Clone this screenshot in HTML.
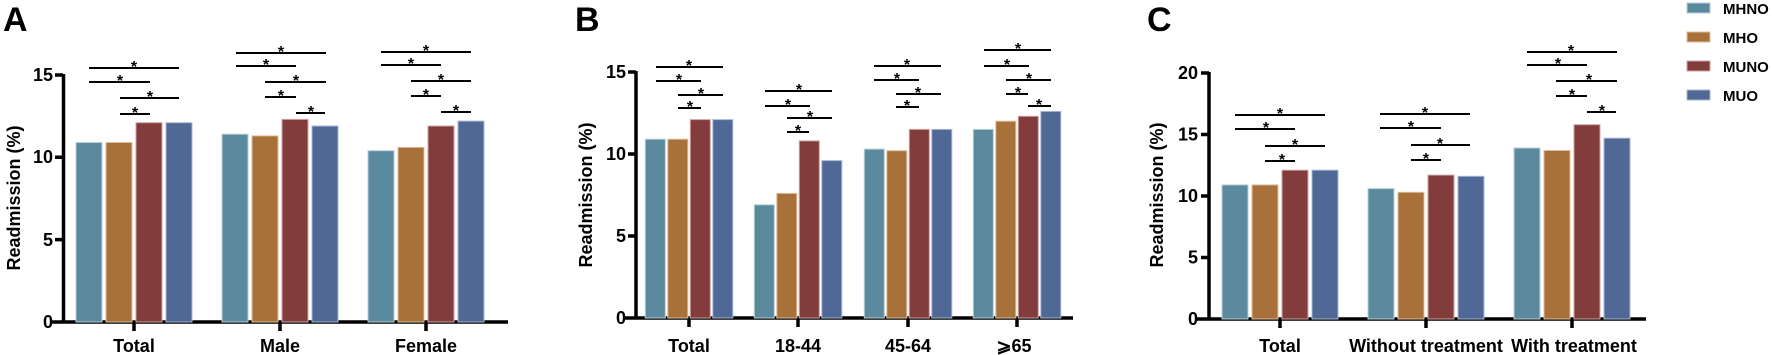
<!DOCTYPE html>
<html><head><meta charset="utf-8"><style>
html,body{margin:0;padding:0;background:#fff;}
svg{display:block;font-family:"Liberation Sans",Arial,sans-serif;font-weight:bold;}
.a{stroke:#000;stroke-width:3.5;fill:none;}
.s{stroke:#000;stroke-width:2;}
.t{font-size:18px;fill:#000;}
.st{font-size:16px;fill:#000;text-anchor:middle;}
.c1{fill:#5B8A9E;stroke:#B9CFD8;stroke-width:1;}
.c2{fill:#A9713A;stroke:#DDBF9C;stroke-width:1;}
.c3{fill:#823C3C;stroke:#CFA3A3;stroke-width:1;}
.c4{fill:#4F6896;stroke:#A9B8D2;stroke-width:1;}
</style></head><body>
<svg width="1772" height="355" viewBox="0 0 1772 355" xmlns="http://www.w3.org/2000/svg">
<!-- Panel A -->
<text x="3" y="31" font-size="34">A</text>
<text transform="translate(20,198) rotate(-90)" font-size="18" text-anchor="middle">Readmission (%)</text>
<g class="t" text-anchor="end"><text x="53" y="328">0</text><text x="53" y="246">5</text><text x="53" y="163">10</text><text x="53" y="81">15</text></g>
<path class="a" d="M63.5 74V322M52 322H508M55 239.6H63M55 157.3H63M55 75H63M134 322V331M280 322V331M426 322V331"/>
<rect class="c1" x="76" y="142.5" width="26" height="179.5"/><rect class="c2" x="106" y="142.5" width="26" height="179.5"/><rect class="c3" x="136" y="122.7" width="26" height="199.3"/><rect class="c4" x="166" y="122.7" width="26" height="199.3"/>
<rect class="c1" x="222" y="134.2" width="26" height="187.8"/><rect class="c2" x="252" y="135.9" width="26" height="186.1"/><rect class="c3" x="282" y="119.4" width="26" height="202.6"/><rect class="c4" x="312" y="126" width="26" height="196"/>
<rect class="c1" x="368" y="150.7" width="26" height="171.3"/><rect class="c2" x="398" y="147.4" width="26" height="174.6"/><rect class="c3" x="428" y="126" width="26" height="196"/><rect class="c4" x="458" y="121.1" width="26" height="200.9"/>
<g class="s"><line x1="89" y1="68" x2="179" y2="68"/><line x1="89" y1="82" x2="150" y2="82"/><line x1="120" y1="98" x2="179" y2="98"/><line x1="120" y1="114" x2="150" y2="114"/>
<line x1="236" y1="53" x2="326" y2="53"/><line x1="236" y1="66" x2="296" y2="66"/><line x1="265" y1="82" x2="326" y2="82"/><line x1="265" y1="97" x2="296" y2="97"/><line x1="296" y1="113" x2="325" y2="113"/>
<line x1="381" y1="52" x2="471" y2="52"/><line x1="381" y1="65" x2="441" y2="65"/><line x1="411" y1="81" x2="471" y2="81"/><line x1="411" y1="96" x2="441" y2="96"/><line x1="441" y1="112" x2="471" y2="112"/></g>
<g class="st"><text x="134" y="72">*</text><text x="120" y="86">*</text><text x="150" y="102">*</text><text x="135" y="118">*</text>
<text x="281" y="57">*</text><text x="266" y="70">*</text><text x="296" y="86">*</text><text x="281" y="101">*</text><text x="311" y="117">*</text>
<text x="426" y="56">*</text><text x="411" y="69">*</text><text x="441" y="85">*</text><text x="426" y="100">*</text><text x="456" y="116">*</text></g>
<g class="t" text-anchor="middle"><text x="134" y="352">Total</text><text x="280" y="352">Male</text><text x="426" y="352">Female</text></g>

<!-- Panel B -->
<text x="575" y="31" font-size="34">B</text>
<text transform="translate(592,195) rotate(-90)" font-size="18" text-anchor="middle">Readmission (%)</text>
<g class="t" text-anchor="end"><text x="626" y="324">0</text><text x="626" y="242">5</text><text x="626" y="160">10</text><text x="626" y="78">15</text></g>
<path class="a" d="M636 71V318M625 318H1073M628 236H636M628 154H636M628 72H636M689 318V327M798 318V327M908 318V327M1017 318V327"/>
<rect class="c1" x="645.3" y="139.2" width="20" height="178.8"/><rect class="c2" x="667.8" y="139.2" width="20" height="178.8"/><rect class="c3" x="690.3" y="119.6" width="20" height="198.4"/><rect class="c4" x="712.8" y="119.6" width="20" height="198.4"/>
<rect class="c1" x="754.3" y="204.8" width="20" height="113.2"/><rect class="c2" x="776.8" y="193.4" width="20" height="124.6"/><rect class="c3" x="799.3" y="140.9" width="20" height="177.1"/><rect class="c4" x="821.8" y="160.6" width="20" height="157.4"/>
<rect class="c1" x="864.3" y="149.1" width="20" height="168.9"/><rect class="c2" x="886.8" y="150.7" width="20" height="167.3"/><rect class="c3" x="909.3" y="129.4" width="20" height="188.6"/><rect class="c4" x="931.8" y="129.4" width="20" height="188.6"/>
<rect class="c1" x="973.3" y="129.4" width="20" height="188.6"/><rect class="c2" x="995.8" y="121.2" width="20" height="196.8"/><rect class="c3" x="1018.3" y="116.3" width="20" height="201.7"/><rect class="c4" x="1040.8" y="111.4" width="20" height="206.6"/>
<g class="s"><line x1="656" y1="67" x2="723" y2="67"/><line x1="656" y1="81" x2="701" y2="81"/><line x1="678" y1="95" x2="723" y2="95"/><line x1="678" y1="108" x2="701" y2="108"/>
<line x1="765" y1="91" x2="832" y2="91"/><line x1="765" y1="106" x2="810" y2="106"/><line x1="787" y1="118" x2="832" y2="118"/><line x1="787" y1="132" x2="809" y2="132"/>
<line x1="874" y1="66" x2="941" y2="66"/><line x1="874" y1="80" x2="919" y2="80"/><line x1="896" y1="94" x2="941" y2="94"/><line x1="896" y1="107" x2="919" y2="107"/>
<line x1="984" y1="50" x2="1051" y2="50"/><line x1="984" y1="66" x2="1029" y2="66"/><line x1="1006" y1="80" x2="1051" y2="80"/><line x1="1006" y1="94" x2="1028" y2="94"/><line x1="1028" y1="106" x2="1051" y2="106"/></g>
<g class="st"><text x="689" y="71">*</text><text x="679" y="85">*</text><text x="701" y="99">*</text><text x="690" y="112">*</text>
<text x="799" y="95">*</text><text x="788" y="110">*</text><text x="810" y="122">*</text><text x="798" y="136">*</text>
<text x="907" y="70">*</text><text x="897" y="84">*</text><text x="918" y="98">*</text><text x="907" y="111">*</text>
<text x="1018" y="54">*</text><text x="1007" y="70">*</text><text x="1029" y="84">*</text><text x="1018" y="98">*</text><text x="1039" y="110">*</text></g>
<g class="t" text-anchor="middle"><text x="689" y="352">Total</text><text x="798" y="352">18-44</text><text x="908" y="352">45-64</text><text x="1014" y="352">⩾65</text></g>

<!-- Panel C -->
<text x="1147" y="31" font-size="34">C</text>
<text transform="translate(1163,195) rotate(-90)" font-size="18" text-anchor="middle">Readmission (%)</text>
<g class="t" text-anchor="end"><text x="1198" y="325">0</text><text x="1198" y="263.5">5</text><text x="1198" y="202">10</text><text x="1198" y="140.5">15</text><text x="1198" y="79">20</text></g>
<path class="a" d="M1209 72V319M1197 319H1646M1201 257.5H1209M1201 196H1209M1201 134.5H1209M1201 73H1209M1280 319V328M1426 319V328M1572 319V328"/>
<rect class="c1" x="1222" y="184.9" width="26" height="134.1"/><rect class="c2" x="1252" y="184.9" width="26" height="134.1"/><rect class="c3" x="1282" y="170.2" width="26" height="148.8"/><rect class="c4" x="1312" y="170.2" width="26" height="148.8"/>
<rect class="c1" x="1368" y="188.6" width="26" height="130.4"/><rect class="c2" x="1398" y="192.3" width="26" height="126.7"/><rect class="c3" x="1428" y="175.1" width="26" height="143.9"/><rect class="c4" x="1458" y="176.3" width="26" height="142.7"/>
<rect class="c1" x="1514" y="148" width="26" height="171"/><rect class="c2" x="1544" y="150.5" width="26" height="168.5"/><rect class="c3" x="1574" y="124.7" width="26" height="194.3"/><rect class="c4" x="1604" y="138.2" width="26" height="180.8"/>
<g class="s"><line x1="1235" y1="115" x2="1325" y2="115"/><line x1="1235" y1="129" x2="1295" y2="129"/><line x1="1265" y1="146" x2="1325" y2="146"/><line x1="1265" y1="161" x2="1295" y2="161"/>
<line x1="1380" y1="114" x2="1470" y2="114"/><line x1="1380" y1="128" x2="1441" y2="128"/><line x1="1411" y1="145" x2="1470" y2="145"/><line x1="1411" y1="160" x2="1441" y2="160"/>
<line x1="1527" y1="52" x2="1617" y2="52"/><line x1="1527" y1="65" x2="1587" y2="65"/><line x1="1556" y1="81" x2="1617" y2="81"/><line x1="1556" y1="96" x2="1587" y2="96"/><line x1="1587" y1="112" x2="1616" y2="112"/></g>
<g class="st"><text x="1280" y="119">*</text><text x="1266" y="133">*</text><text x="1295" y="150">*</text><text x="1282" y="165">*</text>
<text x="1425" y="118">*</text><text x="1411" y="132">*</text><text x="1440" y="149">*</text><text x="1426" y="164">*</text>
<text x="1571" y="56">*</text><text x="1558" y="69">*</text><text x="1589" y="85">*</text><text x="1572" y="100">*</text><text x="1602" y="116">*</text></g>
<g class="t" text-anchor="middle"><text x="1280" y="352">Total</text><text x="1426" y="352">Without treatment</text><text x="1574" y="352">With treatment</text></g>

<!-- Legend -->
<rect class="c1" x="1687" y="3" width="23" height="10"/><rect class="c2" x="1687" y="32" width="23" height="10"/><rect class="c3" x="1687" y="61" width="23" height="10"/><rect class="c4" x="1687" y="90" width="23" height="10"/>
<g font-size="15" fill="#000"><text x="1723" y="14">MHNO</text><text x="1723" y="43">MHO</text><text x="1723" y="72">MUNO</text><text x="1723" y="101">MUO</text></g>
</svg>
</body></html>
